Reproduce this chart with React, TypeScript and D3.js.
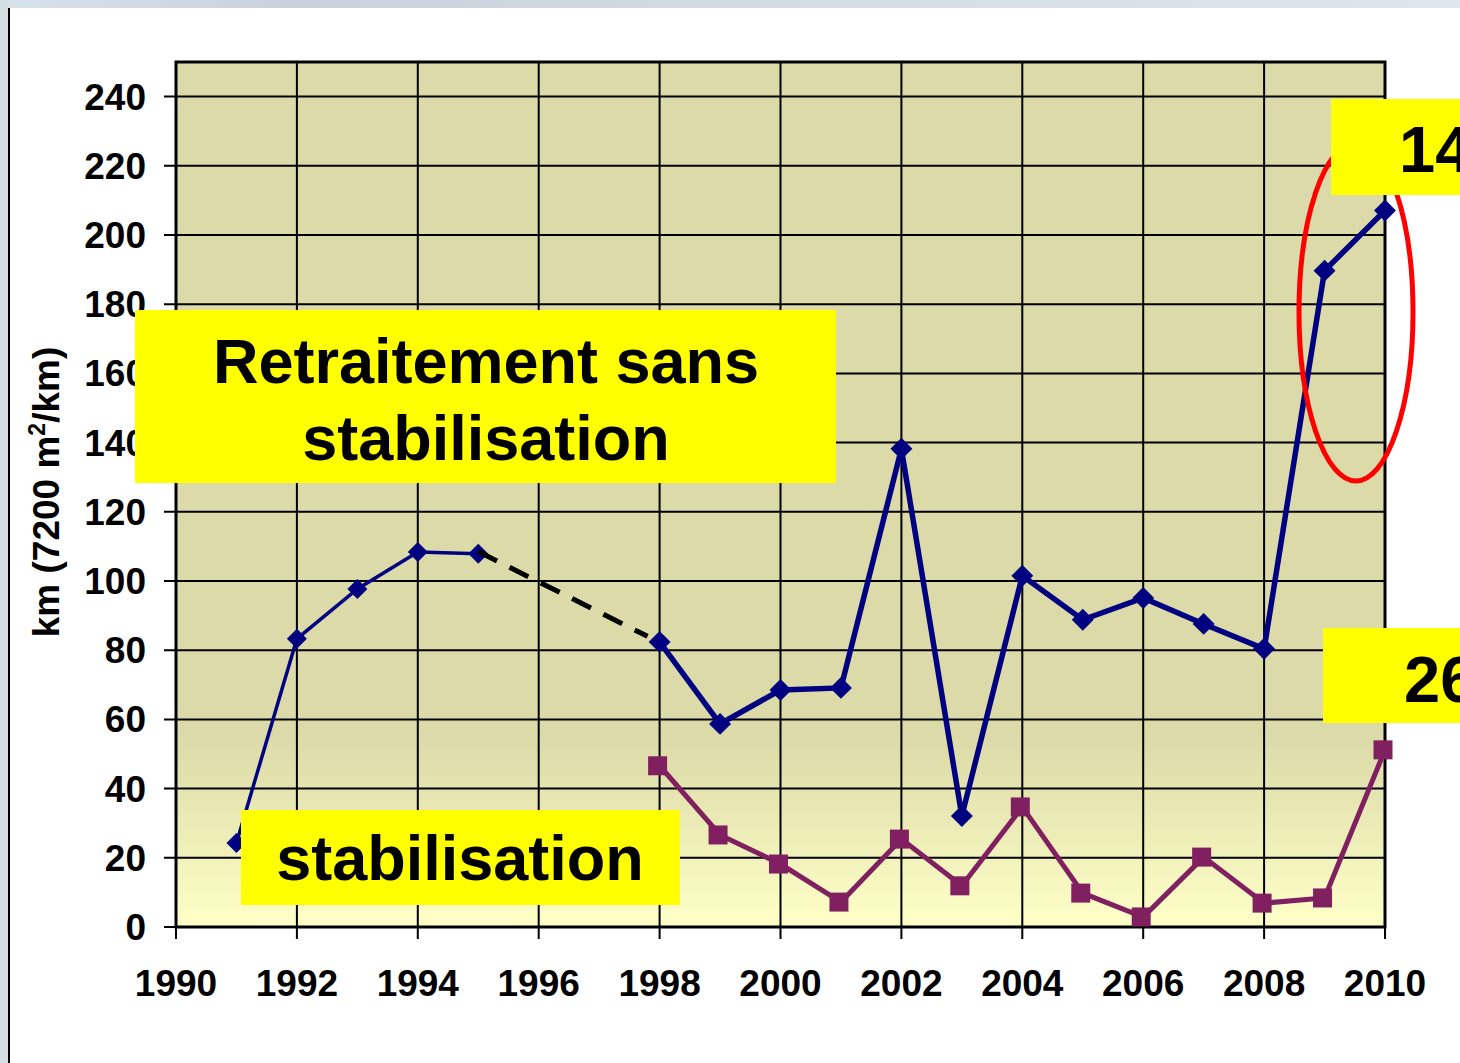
import React from "react";
import * as d3 from "d3";

// early series (thin blue), 1991-1995
const earlyYears = [1991, 1992, 1993, 1994, 1995];
const earlyValues = [24.3, 83.3, 97.7, 108.4, 107.9];

// gap bridged by a dashed line
const gapYears = [1995, 1997.8];
const gapValues = [108.5, 84];

// "Retraitement sans stabilisation" 1998-2010
const lateYears = [1998, 1999, 2000, 2001, 2002, 2003, 2004, 2005, 2006, 2007, 2008, 2009, 2010];
const sansValues = [82.4, 58.7, 68.5, 69.1, 138.2, 32.1, 101.5, 88.8, 95.1, 87.6, 80.4, 189.7, 207.1];
// "stabilisation" 1998-2010
const stabValues = [46.6, 26.6, 18.2, 7.2, 25.4, 11.9, 34.7, 9.8, 2.9, 20.2, 6.9, 8.4, 51.2];

const yTicks = [0, 20, 40, 60, 80, 100, 120, 140, 160, 180, 200, 220, 240];
const xTicks = [1990, 1992, 1994, 1996, 1998, 2000, 2002, 2004, 2006, 2008, 2010];

const W = 1460, H = 1063;
const FONT = "'Liberation Sans', Arial, sans-serif";

export default function App() {
  const x = d3.scaleLinear().domain([1990, 2010]).range([176, 1385]);
  const y = d3.scaleLinear().domain([0, 250]).range([927, 62]);

  const line = d3.line<[number, number]>().x(d => x(d[0])).y(d => y(d[1]));
  const zip = (a: number[], b: number[]) => a.map((v, i) => [v, b[i]] as [number, number]);

  const early = zip(earlyYears, earlyValues);
  const gap = zip(gapYears, gapValues);
  const sans = zip(lateYears, sansValues);
  const stab = zip(lateYears, stabValues);

  const diamond = (size: number) => d3.symbol(d3.symbolSquare, size)();
  const square = d3.symbol(d3.symbolSquare, 361)();

  return (
    <svg width={W} height={H} style={{ position: "absolute", left: 0, top: 0, overflow: "hidden", background: "#fff" }}>
      <defs>
        <linearGradient id="bg" x1="0" y1="0" x2="0" y2="1">
          <stop offset="0" stopColor="#DBDAA8" />
          <stop offset="0.78" stopColor="#DBDAA8" />
          <stop offset="1" stopColor="#FFFFC8" />
        </linearGradient>
        <linearGradient id="top" x1="0" y1="0" x2="1" y2="0">
          <stop offset="0" stopColor="#D6E2EA" />
          <stop offset="0.2" stopColor="#C9D2DA" />
          <stop offset="0.6" stopColor="#D4DEE5" />
          <stop offset="1" stopColor="#DDE6EC" />
        </linearGradient>
      </defs>
      {/* slide frame */}
      <rect x={0} y={0} width={W} height={8} fill="url(#top)" />
      <rect x={0} y={0} width={8} height={H} fill="#D3DDE4" />
      <line x1={9} x2={9} y1={8} y2={H} stroke="#000" strokeWidth={2} />

      {/* plot area */}
      <rect x={176} y={62} width={1209} height={865} fill="url(#bg)" />
      {yTicks.map(t => (
        <line key={"gy" + t} x1={164} x2={1385} y1={y(t)} y2={y(t)} stroke="#000" strokeWidth={2} />
      ))}
      {xTicks.map(t => (
        <line key={"gx" + t} x1={x(t)} x2={x(t)} y1={62} y2={939} stroke="#000" strokeWidth={2} />
      ))}
      <rect x={176} y={62} width={1209} height={865} fill="none" stroke="#000" strokeWidth={3} />

      {/* tick labels */}
      {yTicks.map(t => (
        <text key={"ly" + t} x={146} y={y(t) + 13} textAnchor="end" fontFamily={FONT} fontWeight="bold" fontSize={37} fill="#000">{t}</text>
      ))}
      {xTicks.map(t => (
        <text key={"lx" + t} x={x(t)} y={996} textAnchor="middle" fontFamily={FONT} fontWeight="bold" fontSize={37} fill="#000">{t}</text>
      ))}
      <text transform="translate(59,492) rotate(-90)" textAnchor="middle" fontFamily={FONT} fontWeight="bold" fontSize={37} fill="#000">
        km (7200 m<tspan dy={-14} fontSize={23}>2</tspan><tspan dy={14}>/km)</tspan>
      </text>

      {/* series */}
      <path d={line(early) ?? ""} fill="none" stroke="#000080" strokeWidth={3.5} />
      {early.map((d, i) => (
        <path key={"e" + i} d={diamond(200) ?? ""} transform={`translate(${x(d[0])},${y(d[1])}) rotate(45)`} fill="#000080" />
      ))}
      <path d={line(gap) ?? ""} fill="none" stroke="#000" strokeWidth={5} strokeDasharray="21 14" />
      <path d={line(sans) ?? ""} fill="none" stroke="#000080" strokeWidth={5.5} />
      {sans.map((d, i) => (
        <path key={"s" + i} d={diamond(240) ?? ""} transform={`translate(${x(d[0])},${y(d[1])}) rotate(45)`} fill="#000080" />
      ))}
      <path d={line(stab) ?? ""} fill="none" stroke="#802060" strokeWidth={5} />
      {stab.map((d, i) => (
        <path key={"p" + i} d={square ?? ""} transform={`translate(${x(d[0]) - 2},${y(d[1])})`} fill="#802060" />
      ))}

      {/* annotations */}
      <ellipse cx={1356} cy={312} rx={57} ry={169} fill="none" stroke="#FF0000" strokeWidth={5} />
      <rect x={135} y={310} width={701} height={173} fill="#FFFF00" />
      <text x={486} y={383} textAnchor="middle" fontFamily={FONT} fontWeight="bold" fontSize={63} fill="#000">Retraitement sans</text>
      <text x={486} y={460} textAnchor="middle" fontFamily={FONT} fontWeight="bold" fontSize={63} fill="#000">stabilisation</text>
      <rect x={241} y={810} width={439} height={95} fill="#FFFF00" />
      <text x={460} y={880} textAnchor="middle" fontFamily={FONT} fontWeight="bold" fontSize={63} fill="#000">stabilisation</text>
      <rect x={1331} y={99} width={140} height={96} fill="#FFFF00" />
      <text x={1399} y={172} fontFamily={FONT} fontWeight="bold" fontSize={65} fill="#000">14</text>
      <rect x={1323} y={628} width={150} height={95} fill="#FFFF00" />
      <text x={1404} y={702} fontFamily={FONT} fontWeight="bold" fontSize={65} fill="#000">26</text>
    </svg>
  );
}
